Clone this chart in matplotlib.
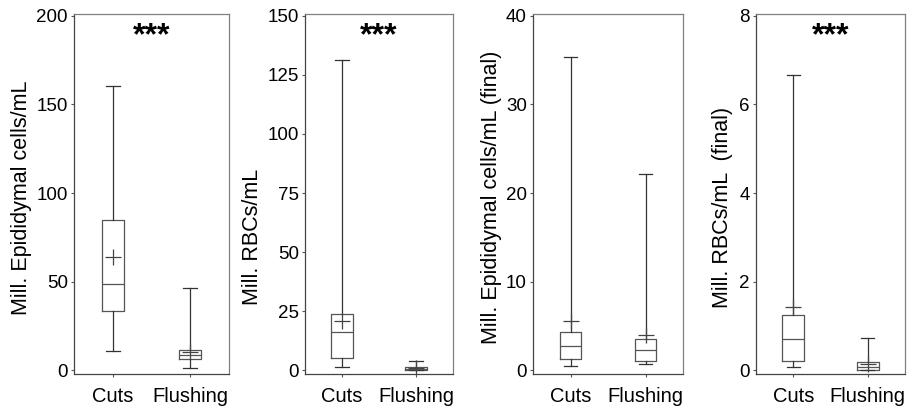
import matplotlib.pyplot as plt

plt.rcParams["font.family"] = ["Liberation Sans", "DejaVu Sans"]

groups = ["Cuts", "Flushing"]

ylabels = [
    "Mill. Epididymal cells/mL",
    "Mill. RBCs/mL",
    "Mill. Epididymal cells/mL (final)",
    "Mill. RBCs/mL  (final)",
]
ymax = [200, 150, 40, 8]
yticks = [
    [0, 50, 100, 150, 200],
    [0, 25, 50, 75, 100, 125, 150],
    [0, 10, 20, 30, 40],
    [0, 2, 4, 6, 8],
]
signif = ["***", "***", "", "***"]

# box statistics per panel: [Cuts, Flushing]
whislo = [[11.0, 1.6], [1.4, 0.0], [0.5, 0.7], [0.07, 0.0]]
q1 = [[33.5, 6.5], [5.4, 0.2], [1.3, 1.1], [0.22, 0.01]]
med = [[48.5, 8.6], [16.2, 0.7], [2.8, 2.3], [0.71, 0.08]]
mean = [[64.0, 10.2], [21.1, 0.9], [5.6, 4.0], [1.42, 0.14]]
q3 = [[85.0, 11.5], [23.8, 1.3], [4.3, 3.6], [1.25, 0.19]]
whishi = [[160.5, 46.5], [131.3, 4.2], [35.4, 22.2], [6.67, 0.74]]

# axes placement in pixels (left, right) and label anchors
ax_px = [(74, 229), (305, 453), (533, 683), (756, 905)]
label_x = [-0.27, -0.284, -0.207, -0.154]
label_y = [0.49, 0.38, 0.49, 0.464]

W, H = 907, 408
fig = plt.figure(figsize=(W / 100, H / 100), dpi=100)

box_col = "#555555"
for i in range(4):
    l, r = ax_px[i]
    ax = fig.add_axes([l / W, (H - 374) / H, (r - l) / W, 360 / H])
    stats = []
    for j in range(2):
        stats.append({
            "whislo": whislo[i][j], "q1": q1[i][j], "med": med[i][j],
            "q3": q3[i][j], "whishi": whishi[i][j], "mean": mean[i][j],
            "fliers": [],
        })
    ax.bxp(stats, positions=[1, 2], widths=0.29, showmeans=True,
           boxprops=dict(color=box_col, lw=0.9),
           medianprops=dict(color=box_col, lw=0.9),
           whiskerprops=dict(color="#333333", lw=0.9),
           capprops=dict(color="#333333", lw=0.9),
           meanprops=dict(marker="+", markeredgecolor="#444444",
                          markersize=11, markeredgewidth=0.9),
           capwidths=0.18)
    ax.set_xlim(0.5, 2.5)
    ax.set_ylim(-0.01 * ymax[i], 1.005 * ymax[i])
    ax.set_yticks(yticks[i])
    ax.set_xticks([1, 2])
    ax.set_xticklabels(groups)
    ax.tick_params(axis="y", labelsize=13.5, length=2.5, width=0.8,
                   color="#555555", pad=2)
    ax.tick_params(axis="x", labelsize=14.5, length=2.5, width=0.8,
                   color="#555555", pad=7)
    ax.set_ylabel(ylabels[i], fontsize=15.5)
    ax.yaxis.set_label_coords(label_x[i], label_y[i])
    for side in ["left", "bottom"]:
        ax.spines[side].set_color("#444444")
        ax.spines[side].set_linewidth(0.9)
    for side in ["top", "right"]:
        ax.spines[side].set_color("#808080")
        ax.spines[side].set_linewidth(0.9)
    if signif[i]:
        ax.text(0.5, 0.937, signif[i], transform=ax.transAxes,
                ha="center", va="center", fontsize=23, fontweight="bold")

fig.savefig("out.png", dpi=100)
